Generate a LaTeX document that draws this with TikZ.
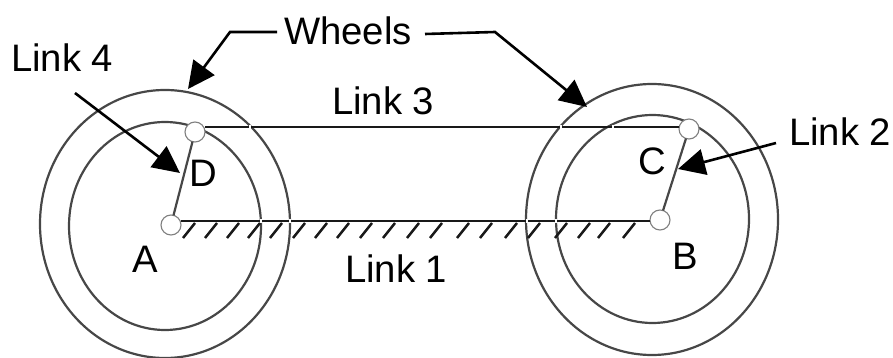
\documentclass[tikz,border=0pt]{standalone}
\usepackage{fontspec}
\setmainfont{Liberation Sans}
\usetikzlibrary{arrows.meta,shapes.geometric}
\tikzset{
  lbl/.style={anchor=base west,inner sep=0pt,outer sep=0pt,font=\fontsize{38.3pt}{40pt}\selectfont,text=black},
  wheel/.style={ellipse,draw=black!72,line width=2.2pt,minimum width=#1,inner sep=0pt},
  pin/.style={circle,draw=black!50,line width=1.1pt,fill=white,minimum size=20pt,inner sep=0pt,outer sep=0pt},
  linkbar/.style={draw=black!90,line width=2.6pt},
  lever/.style={draw=black!72,line width=2.2pt},
  pointer/.style={draw=black,line width=2.6pt,-{Triangle[length=27pt,width=26pt]}},
  hatchline/.style={draw=black!90,line width=2.5pt},
  gap/.style={draw=white,line width=1.6pt}
}
\begin{document}
\begin{tikzpicture}[x=1pt,y=-1pt]
\useasboundingbox (0,0) rectangle (893,358);
\clip (0,0) rectangle (893,358);
% wheels
\node[wheel=250pt,minimum height=268pt] (wlo) at (165,224) {};
\node[wheel=192pt,minimum height=208pt] (wli) at (165,226) {};
\node[wheel=252pt,minimum height=271pt] (wro) at (652,219.5) {};
\node[wheel=193pt,minimum height=208pt] (wri) at (652.5,219) {};
% pins
\node[pin] (A) at (171,225) {};
\node[pin] (D) at (195,132) {};
\node[pin] (B) at (660,220) {};
\node[pin] (C) at (689,129) {};
% bars
\draw[linkbar] (D.east |- 0,127) -- (C.west |- 0,127);
\draw[linkbar] (A.east |- 0,221) -- (B.west |- 0,221);
\draw[lever] (A) -- (D);
\draw[lever] (B) -- (C);
% small breaks where bars cross the wheels
\foreach \gx/\gy in {250/127,561/127,613/127,261/221,290/221,527/221,556/221}
  \draw[gap] (\gx,\gy-2) -- (\gx,\gy+2);
% ground hatching
\foreach \hx in {183,205,227,248,270,293,315,337,360,383,407,430,457,480,505,528,555,578,598,623}
  \draw[hatchline] (\hx,238) -- (\hx+12,223);
% labels
\node[lbl] (wheels) at (284,45) {Wheels};
\node[lbl] (l4) at (11,72) {Link 4};
\node[lbl] (l3) at (332,115) {Link 3};
\node[lbl] (l1) at (345,282) {Link 1};
\node[lbl] (l2) at (789,146) {Link 2};
\node[lbl] (tA) at (132,272) {A};
\node[lbl] (tD) at (189,186) {D};
\node[lbl] (tC) at (638,175) {C};
\node[lbl] (tB) at (672,269) {B};
% pointers
\coordinate (wl0) at (277,32);
\coordinate (wl1) at (230,32);
\coordinate (wl2) at (188,89);
\coordinate (wr0) at (425,34);
\coordinate (wr1) at (495,32);
\coordinate (wr2) at (587,107);
\coordinate (l4s) at (75,93);
\coordinate (l4e) at (180,173);
\coordinate (l2s) at (776,143);
\coordinate (l2e) at (678,169);
\draw[pointer] (wl0) -- (wl1) -- (wl2);
\draw[pointer] (wr0) -- (wr1) -- (wr2);
\draw[pointer] (l4s) -- (l4e);
\draw[pointer] (l2s) -- (l2e);
\end{tikzpicture}
\end{document}
